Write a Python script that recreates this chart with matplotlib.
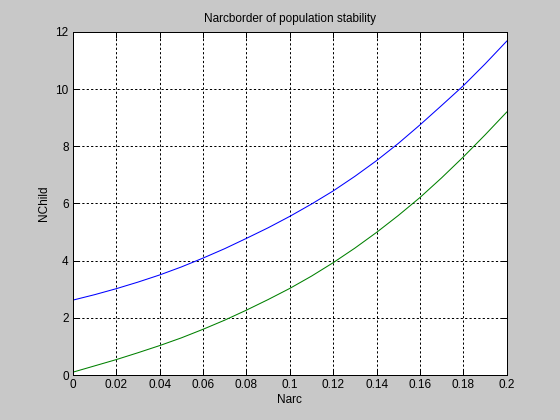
import matplotlib
matplotlib.use('Agg')
import matplotlib.pyplot as plt
import numpy as np

# values
narc = [0.0, 0.01, 0.02, 0.03, 0.04, 0.05, 0.06, 0.07, 0.08, 0.09, 0.10,
        0.11, 0.12, 0.13, 0.14, 0.15, 0.16, 0.17, 0.18, 0.19, 0.20]
upper = [2.62, 2.81, 3.02, 3.25, 3.50, 3.78, 4.09, 4.42, 4.78, 5.15, 5.55,
         5.98, 6.44, 6.95, 7.50, 8.10, 8.75, 9.43, 10.12, 10.88, 11.68]
lower = [0.10, 0.32, 0.54, 0.78, 1.03, 1.30, 1.60, 1.92, 2.27, 2.64, 3.03,
         3.46, 3.93, 4.44, 4.99, 5.58, 6.21, 6.90, 7.63, 8.40, 9.20]

plt.rcParams['font.family'] = ['Liberation Sans', 'DejaVu Sans']
plt.rcParams['font.size'] = 8.5

fig = plt.figure(figsize=(5.6, 4.2), dpi=100, facecolor='#c8c8c8')
ax = fig.add_axes([0.13, 0.107, 0.775, 0.817])
ax.set_facecolor('white')

ax.plot(narc, upper, color='#0000ff', lw=0.75)
ax.plot(narc, lower, color='#008000', lw=0.75)

ax.set_xlim(0, 0.2)
ax.set_ylim(0, 12)
ax.set_xticks(np.arange(0, 0.2001, 0.02))
ax.set_xticklabels(['0', '0.02', '0.04', '0.06', '0.08', '0.1', '0.12', '0.14', '0.16', '0.18', '0.2'])
ax.set_yticks(range(0, 13, 2))
ax.grid(True, color='black', lw=0.72, linestyle=(0, (2.2, 2.2)))
ax.tick_params(direction='in', length=4, width=0.72, top=True, right=True, pad=3)
for s in ax.spines.values():
    s.set_linewidth(0.72)

ax.set_title('Narcborder of population stability', fontsize=8.5, pad=7)
ax.set_xlabel('Narc', labelpad=2)
ax.set_ylabel('NChild', labelpad=4)

fig.savefig('out.png', dpi=100, facecolor=fig.get_facecolor())
